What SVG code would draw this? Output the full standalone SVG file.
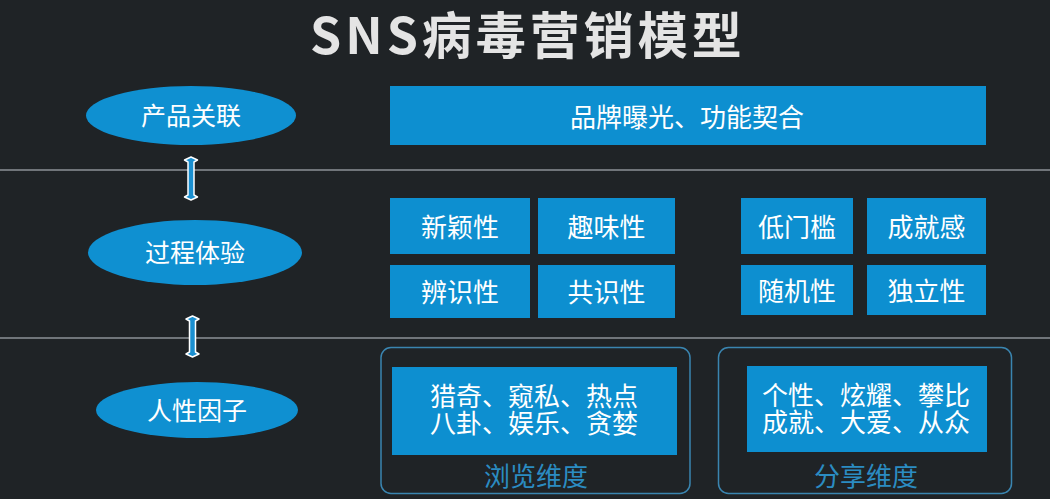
<svg xmlns="http://www.w3.org/2000/svg" width="1050" height="499" viewBox="0 0 1050 499">
<defs>
<style>
.bg{fill:#1f2326}
.sep{stroke:#8d9297;stroke-width:1.5}
.ell{fill:#0f90d1}
.box{fill:#0d8fd0}
.frame{fill:none;stroke:#3a85b0;stroke-width:1.5}
.lbl{font-family:"Noto Sans CJK SC","Noto Sans",sans-serif;fill:#ffffff;font-size:26px;text-anchor:middle;dominant-baseline:central}
.ellt{font-size:25px}
.multi{font-family:"Noto Sans CJK SC","Noto Sans",sans-serif;fill:#ffffff;font-size:26px;text-anchor:middle}
.dim{font-family:"Noto Sans CJK SC","Noto Sans",sans-serif;fill:#2b8cc2;font-size:26px;text-anchor:middle;dominant-baseline:central}
.title{font-family:"Noto Sans CJK SC","Noto Sans",sans-serif;fill:#e4e4e4;font-size:50px;font-weight:700;letter-spacing:4px}
.arr{fill:#1a8fd0;stroke:#ffffff;stroke-width:1.5;stroke-linejoin:round}
</style>
</defs>
<rect class="bg" x="0" y="0" width="1050" height="499"/>
<text class="title" x="310" y="54">SNS病毒营销模型</text>
<g id="separators">
<line class="sep" x1="0" y1="170" x2="1050" y2="170"/>
<line class="sep" x1="0" y1="338" x2="1050" y2="338"/>
</g>
<g id="connectors">
<path class="arr" d="M191,157 L197.5,160 L194,162 L194,195 L197.5,197 L191,200 L184.5,197 L188,195 L188,162 L184.5,160 Z"/>
<path class="arr" d="M192.5,316 L199,319 L195.5,321 L195.5,352 L199,354 L192.5,357 L186,354 L189.5,352 L189.5,321 L186,319 Z"/>
</g>
<g id="node-product">
<ellipse class="ell" cx="191" cy="115.5" rx="105" ry="29.5"/>
<text class="lbl ellt" x="191" y="114">产品关联</text>
</g>
<g id="node-process">
<ellipse class="ell" cx="195" cy="252.5" rx="107" ry="32.5"/>
<text class="lbl ellt" x="195" y="251">过程体验</text>
</g>
<g id="node-human">
<ellipse class="ell" cx="197" cy="410" rx="101" ry="28"/>
<text class="lbl ellt" x="197" y="409">人性因子</text>
</g>
<g id="node-brand">
<rect class="box" x="390" y="86" width="596" height="59"/>
<text class="lbl" x="687" y="115">品牌曝光、功能契合</text>
</g>
<g id="node-novelty">
<rect class="box" x="390" y="198" width="140" height="56"/>
<text class="lbl" x="460" y="225">新颖性</text>
</g>
<g id="node-fun">
<rect class="box" x="538" y="198" width="137" height="56"/>
<text class="lbl" x="606.5" y="225">趣味性</text>
</g>
<g id="node-lowbar">
<rect class="box" x="741" y="198" width="112" height="56"/>
<text class="lbl" x="797" y="225">低门槛</text>
</g>
<g id="node-achieve">
<rect class="box" x="867" y="198" width="119" height="56"/>
<text class="lbl" x="926.5" y="225">成就感</text>
</g>
<g id="node-recog">
<rect class="box" x="390" y="265" width="140" height="53"/>
<text class="lbl" x="460" y="290">辨识性</text>
</g>
<g id="node-common">
<rect class="box" x="538" y="265" width="137" height="53"/>
<text class="lbl" x="606.5" y="290">共识性</text>
</g>
<g id="node-random">
<rect class="box" x="741" y="265" width="112" height="50"/>
<text class="lbl" x="797" y="289">随机性</text>
</g>
<g id="node-indep">
<rect class="box" x="867" y="265" width="119" height="50"/>
<text class="lbl" x="926.5" y="289">独立性</text>
</g>
<g id="node-browse">
<rect class="frame" x="381" y="347.5" width="309" height="146" rx="10"/>
<rect class="box" x="392" y="367" width="285" height="88"/>
<text class="multi" x="534" y="406"><tspan x="534" y="406">猎奇、窥私、热点</tspan><tspan x="534" y="433">八卦、娱乐、贪婪</tspan></text>
<text class="dim" x="536" y="474">浏览维度</text>
</g>
<g id="node-share">
<rect class="frame" x="718.5" y="347.5" width="293" height="146" rx="10"/>
<rect class="box" x="747" y="366" width="240" height="86"/>
<text class="multi" x="866" y="405"><tspan x="866" y="405">个性、炫耀、攀比</tspan><tspan x="866" y="432">成就、大爱、从众</tspan></text>
<text class="dim" x="866" y="474">分享维度</text>
</g>
</svg>
